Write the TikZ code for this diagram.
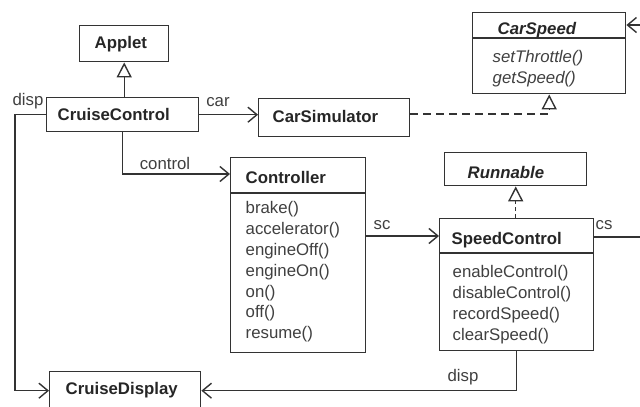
\documentclass[tikz,border=0pt]{standalone}
\usepackage{fontspec}
\setmainfont{Liberation Sans}
\usetikzlibrary{arrows.meta}
\begin{document}
\begin{tikzpicture}[x=1pt,y=-1pt,
  line width=1.4pt,
  box/.style={draw=black!80, line width=1.4pt, rectangle, inner sep=0pt, anchor=north west},
  cname/.style={inner sep=0pt, anchor=base west, text=black!85, font=\fontsize{16.8}{20.8}\selectfont\bfseries},
  aname/.style={cname, font=\fontsize{16.8}{20.8}\selectfont\bfseries\itshape},
  meth/.style={inner sep=0pt, anchor=north west, align=left, text=black!75, font=\fontsize{16.8}{20.8}\selectfont},
  ameth/.style={meth, font=\fontsize{16.8}{20.8}\selectfont\itshape},
  lab/.style={inner sep=0pt, text=black!75, font=\fontsize{16.8}{20.8}\selectfont},
  conn/.style={draw=black!80, line width=1.4pt},
  nav/.style={conn, -{Straight Barb[length=9pt,width=15pt]}},
  gen/.style={conn, -{Triangle[length=15pt,width=15pt,fill=white]}},
  real/.style={gen, dash pattern=on 8pt off 5pt},
]
\clip (0,0) rectangle (640,407);
\fill[white] (0,0) rectangle (640,407);

% boxes
\node[box, minimum width=89pt, minimum height=36pt] (applet) at (79,25) {};
\node[box, minimum width=152pt, minimum height=34pt] (cc) at (46,97) {};
\node[box, minimum width=151pt, minimum height=38pt] (carsim) at (258,98) {};
\node[box, minimum width=153pt, minimum height=81pt] (cspeed) at (472,12) {};
\node[box, minimum width=135pt, minimum height=195pt] (ctrl) at (230,157) {};
\node[box, minimum width=142pt, minimum height=33pt] (run) at (444,152) {};
\node[box, minimum width=154pt, minimum height=132pt] (sc) at (439,218) {};
\node[box, minimum width=151pt, minimum height=38pt] (cdisp) at (49,371) {};

% dividers
\draw[conn] (cspeed.west |- 0,38) -- (cspeed.east |- 0,38);
\draw[conn] (ctrl.west |- 0,193) -- (ctrl.east |- 0,193);
\draw[conn] (sc.west |- 0,253) -- (sc.east |- 0,253);

% class names
\node[cname] (applet-t) at (94,48) {Applet};
\node[cname] (cc-t) at (57,120) {CruiseControl};
\node[cname] (carsim-t) at (272,122) {CarSimulator};
\node[aname] (cspeed-t) at (497,34) {CarSpeed};
\node[cname] (ctrl-t) at (245,183) {Controller};
\node[aname] (run-t) at (467,178) {Runnable};
\node[cname] (sc-t) at (451,244) {SpeedControl};
\node[cname] (cdisp-t) at (65,394) {CruiseDisplay};

% methods
\node[ameth] (cspeed-m) at (492,50) {setThrottle()\\getSpeed()};
\node[meth] (ctrl-m) at (245,201) {brake()\\accelerator()\\engineOff()\\engineOn()\\on()\\off()\\resume()};
\node[meth] (sc-m) at (452,265) {enableControl()\\disableControl()\\recordSpeed()\\clearSpeed()};

% free ends
\coordinate (inCS) at (645,25);
\coordinate (outCS) at (645,237);

% connectors
\draw[gen] (applet.south |- cc.north) -- (applet.south);
\draw[nav] (cc.east) -- (cc.east -| carsim.west);
\draw[nav] (cc.west) -- ++(-31,0) |- (cdisp.west);
\draw[nav] (cc.south) |- (ctrl.west |- 0,174);
\draw[real] (carsim.east |- 0,114) -| (cspeed.south);
\draw[nav] (inCS) -- (cspeed.east |- inCS);
\draw[nav] (ctrl.east |- 0,236) -- (sc.west |- 0,236);
\draw[real, dash pattern=on 4pt off 3pt] (run.south |- sc.north) -- (run.south);
\draw[conn] (sc.east |- outCS) -- (outCS);
\draw[nav] (sc.south) |- (cdisp.east);

% labels
\node[lab] (l-disp1) at (28,101) {disp};
\node[lab] (l-car) at (218,102) {car};
\node[lab] (l-control) at (165,163) {control};
\node[lab] (l-sc) at (382,225) {sc};
\node[lab] (l-cs) at (604,225) {cs};
\node[lab] (l-disp2) at (463,377) {disp};
\end{tikzpicture}
\end{document}
